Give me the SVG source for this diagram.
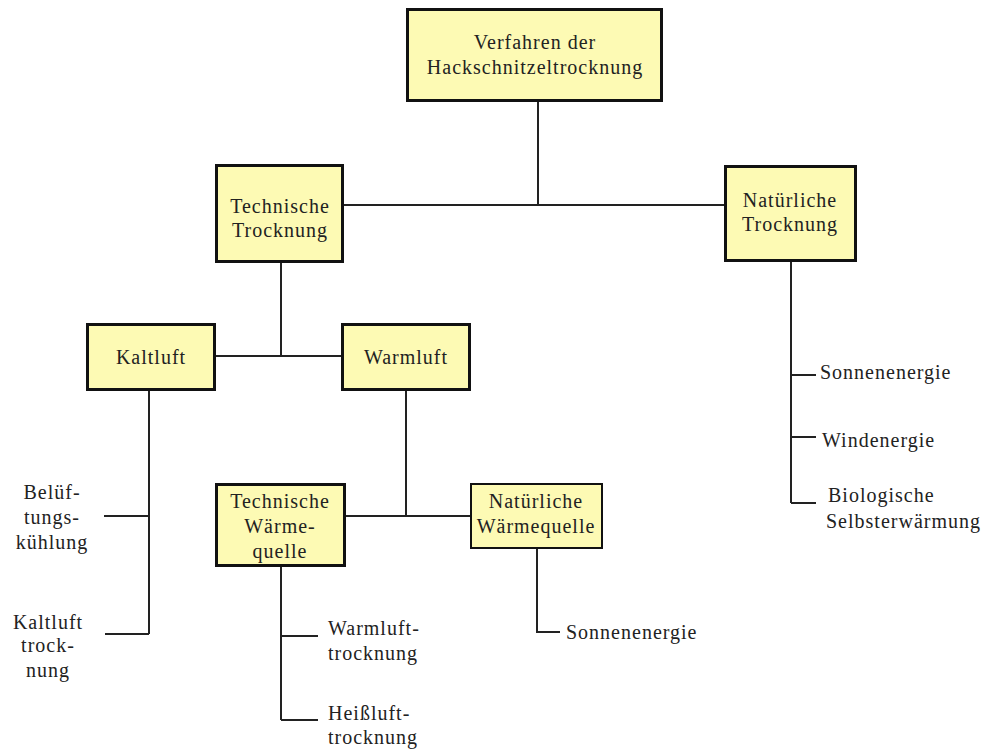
<svg xmlns="http://www.w3.org/2000/svg" width="988" height="749" viewBox="0 0 988 749">
<style>
.box{fill:#fdfab4;stroke:#111;stroke-width:3}
.thin{stroke-width:2}
.ln{stroke:#222;stroke-width:2;fill:none}
text{font-family:"Liberation Serif","DejaVu Serif","Times New Roman",serif;font-size:20px;letter-spacing:1px;fill:#222;text-anchor:middle}
.l{text-anchor:start}
</style>
<rect width="988" height="749" fill="#fff"/>
<g id="connectors">
<path class="ln" d="M538 100V205M342 205H726"/>
<path class="ln" d="M281 262V356M215 356H342"/>
<path class="ln" d="M149 389V634M104 516H149M105 634H149"/>
<path class="ln" d="M406 389V516M345 516H471"/>
<path class="ln" d="M281 566V720M281 636H318M281 720H318"/>
<path class="ln" d="M537 548V632H560"/>
<path class="ln" d="M791 262V503M791 375H816M791 437H816M791 503H816"/>
</g>
<g id="n-root"><rect class="box" x="407.5" y="9.5" width="254" height="91"/><text x="535" y="49">Verfahren der</text><text x="535" y="74">Hackschnitzeltrocknung</text></g>
<g id="n-tech"><rect class="box" x="216.5" y="165.5" width="126" height="96"/><text x="280" y="213">Technische</text><text x="280" y="237">Trocknung</text></g>
<g id="n-nat"><rect class="box" x="725.5" y="166.5" width="130" height="94"/><text x="790" y="207">Natürliche</text><text x="790" y="231">Trocknung</text></g>
<g id="n-kalt"><rect class="box" x="87.5" y="324.5" width="127" height="65"/><text x="151" y="364">Kaltluft</text></g>
<g id="n-warm"><rect class="box" x="342.5" y="324.5" width="127" height="65"/><text x="406" y="364">Warmluft</text></g>
<g id="n-techw"><rect class="box" x="216.5" y="484.5" width="128" height="81"/><text x="280" y="508">Technische</text><text x="280" y="533">Wärme-</text><text x="280" y="558">quelle</text></g>
<g id="n-natw"><rect class="box thin" x="471" y="484" width="131" height="64"/><text x="536" y="508">Natürliche</text><text x="536" y="533">Wärmequelle</text></g>
<g id="n-bel"><text x="52" y="499">Belüf-</text><text x="52" y="524">tungs-</text><text x="52" y="549">kühlung</text></g>
<g id="n-kalttr"><text x="48" y="629">Kaltluft</text><text x="48" y="652">trock-</text><text x="48" y="677">nung</text></g>
<g id="n-warmtr"><text class="l" x="328" y="635">Warmluft-</text><text class="l" x="328" y="660">trocknung</text></g>
<g id="n-heiss"><text class="l" x="328" y="720">Heißluft-</text><text class="l" x="328" y="744">trocknung</text></g>
<g id="n-sonne2"><text class="l" x="566" y="639">Sonnenenergie</text></g>
<g id="n-sonne"><text class="l" x="820" y="379">Sonnenenergie</text></g>
<g id="n-wind"><text class="l" x="822" y="447">Windenergie</text></g>
<g id="n-bio"><text class="l" x="828" y="502">Biologische</text><text class="l" x="826" y="528">Selbsterwärmung</text></g>
</svg>
